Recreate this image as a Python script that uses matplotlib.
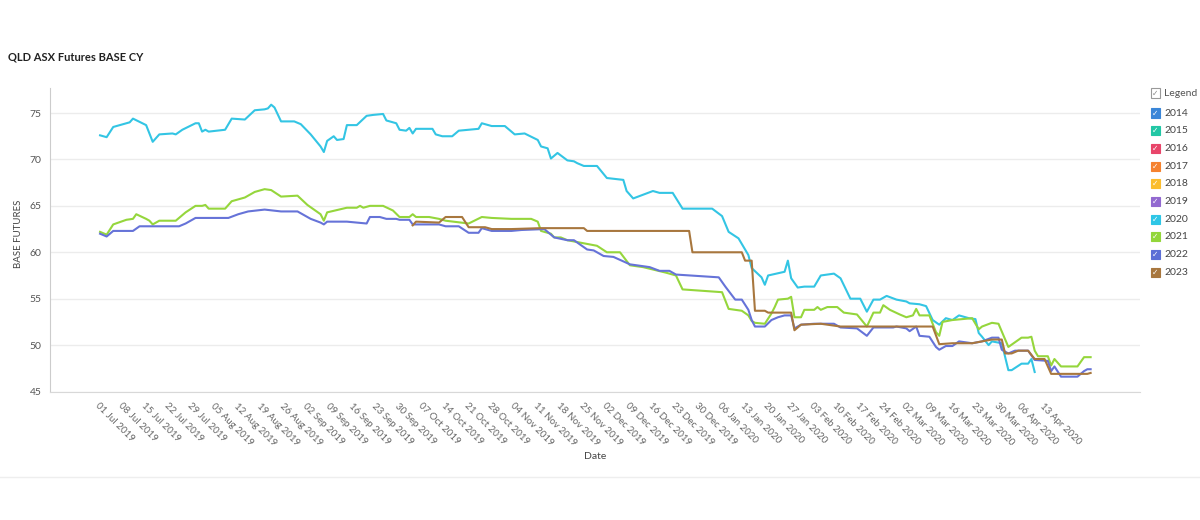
import matplotlib
matplotlib.use('Agg')
import matplotlib.pyplot as plt
from matplotlib.patches import Rectangle
from matplotlib.lines import Line2D
import pandas as pd

plt.rcParams['font.family'] = ['Lato', 'DejaVu Sans']

START = pd.Timestamp('2019-07-01')

# day offsets from 01 Jul 2019 and prices
cy2020_day = [0, 2, 4, 9, 10, 14, 16, 18, 22, 23, 25, 29, 30, 31, 32, 33, 38, 40, 44, 47,
              50, 51, 52, 53, 55, 59, 61, 64, 67, 68, 69, 71, 72, 74, 75, 78, 81, 83, 86, 87,
              90, 91, 93, 94, 95, 96, 101, 102, 104, 107, 109, 115, 116, 119, 123, 126, 129,
              133, 134, 136, 137, 139, 142, 144, 145, 147, 151, 154, 159, 160, 162, 165, 168,
              170, 174, 177, 186, 189, 191, 194, 197, 198, 201, 202, 203, 208, 209, 210, 212,
              214, 217, 219, 223, 225, 228, 231, 233, 235, 237, 239, 242, 245, 246, 249, 251,
              253, 255, 257, 259, 261, 264, 266, 267, 268, 270, 271, 274, 276, 277, 280, 282,
              283, 284]
cy2020_val = [72.6, 72.4, 73.5, 74.0, 74.4, 73.7, 71.9, 72.7, 72.8, 72.7, 73.2, 73.9, 73.9,
              73.0, 73.2, 73.0, 73.2, 74.4, 74.3, 75.3, 75.4, 75.5, 75.9, 75.6, 74.1, 74.1,
              73.8, 72.7, 71.4, 70.8, 72.0, 72.5, 72.1, 72.2, 73.7, 73.7, 74.7, 74.8, 74.9,
              74.2, 73.9, 73.2, 73.1, 73.4, 72.8, 73.3, 73.3, 72.7, 72.5, 72.5, 73.1, 73.3,
              73.9, 73.6, 73.6, 72.7, 72.8, 72.1, 71.4, 71.2, 70.1, 70.7, 69.9, 69.8, 69.6,
              69.3, 69.3, 68.0, 67.8, 66.6, 65.8, 66.2, 66.6, 66.4, 66.4, 64.7, 64.7, 63.9,
              62.2, 61.5, 59.7, 58.3, 57.3, 56.5, 57.5, 57.9, 59.1, 57.2, 56.2, 56.3, 56.3,
              57.5, 57.7, 57.2, 55.0, 55.0, 53.6, 54.9, 54.9, 55.3, 54.9, 54.7, 54.5, 54.4,
              54.2, 52.7, 52.2, 52.9, 52.7, 53.2, 52.9, 52.8, 51.3, 50.9, 50.0, 50.4, 50.2,
              47.3, 47.3, 48.0, 48.0, 48.5, 47.1]

cy2021_day = [0, 2, 4, 8, 10, 11, 14, 15, 16, 18, 23, 26, 29, 31, 32, 33, 38, 40, 44, 47,
              50, 52, 55, 60, 63, 67, 68, 69, 75, 78, 79, 80, 82, 86, 89, 91, 94, 95, 96, 100,
              103, 105, 112, 116, 119, 125, 131, 133, 134, 137, 138, 140, 142, 151, 154, 158,
              161, 165, 172, 175, 177, 181, 189, 191, 195, 197, 198, 199, 202, 204, 205, 206,
              209, 210, 211, 213, 214, 217, 218, 219, 221, 224, 226, 230, 233, 235, 237, 238,
              240, 243, 245, 247, 248, 249, 252, 254, 255, 256, 259, 265, 267, 268, 271, 273,
              276, 278, 280, 282, 283, 284, 285, 288, 289, 290, 292, 297, 299, 301]
cy2021_val = [62.2, 61.9, 63.0, 63.5, 63.6, 64.1, 63.6, 63.4, 63.0, 63.4, 63.4, 64.3, 65.0,
              65.0, 65.1, 64.7, 64.7, 65.5, 65.9, 66.5, 66.8, 66.7, 66.0, 66.1, 65.1, 64.1,
              63.4, 64.3, 64.8, 64.8, 65.0, 64.8, 65.0, 65.0, 64.5, 63.8, 63.8, 64.1, 63.8,
              63.8, 63.6, 63.4, 63.1, 63.8, 63.7, 63.6, 63.6, 63.3, 62.3, 62.0, 61.6, 61.6,
              61.3, 60.7, 60.0, 60.0, 58.6, 58.4, 57.8, 57.5, 56.0, 55.9, 55.7, 53.9, 53.7,
              53.2, 52.6, 52.4, 52.3, 53.4, 54.1, 54.9, 55.0, 55.2, 53.0, 53.0, 53.8, 53.8,
              54.1, 53.8, 54.1, 54.1, 53.5, 53.3, 52.0, 53.5, 53.5, 54.3, 53.8, 53.3, 53.0,
              53.2, 53.9, 53.2, 53.2, 51.4, 51.0, 52.5, 52.7, 52.9, 51.7, 52.0, 52.4, 52.3,
              49.8, 50.3, 50.8, 50.8, 50.9, 49.4, 48.8, 48.8, 47.8, 48.5, 47.7, 47.7, 48.7,
              48.7]

cy2022_day = [0, 2, 4, 10, 12, 24, 26, 29, 39, 42, 45, 50, 55, 60, 64, 67, 68, 69, 75, 81,
              82, 85, 87, 90, 91, 94, 95, 103, 105, 109, 112, 115, 116, 119, 125, 128, 135,
              138, 142, 144, 148, 150, 153, 156, 161, 167, 170, 173, 175, 188, 190, 193, 195,
              197, 198, 199, 202, 204, 206, 208, 210, 211, 213, 217, 223, 225, 230, 233, 235,
              241, 242, 245, 246, 248, 249, 252, 254, 255, 257, 259, 261, 265, 268, 271, 273,
              274, 276, 278, 282, 284, 288, 289, 290, 292, 297, 299, 300, 301]
cy2022_val = [62.0, 61.7, 62.3, 62.3, 62.8, 62.8, 63.1, 63.7, 63.7, 64.1, 64.4, 64.6, 64.4,
              64.4, 63.6, 63.2, 63.0, 63.3, 63.3, 63.1, 63.8, 63.8, 63.6, 63.6, 63.5, 63.5,
              63.0, 63.0, 62.8, 62.8, 62.1, 62.1, 62.6, 62.3, 62.3, 62.4, 62.5, 61.6, 61.3,
              61.3, 60.3, 60.2, 59.6, 59.5, 58.7, 58.4, 58.0, 58.0, 57.6, 57.3, 56.3, 54.9,
              54.9, 53.8, 52.7, 52.0, 52.0, 52.7, 53.0, 53.2, 53.2, 51.8, 52.2, 52.3, 52.3,
              51.9, 51.8, 51.0, 51.9, 51.9, 52.0, 51.8, 51.5, 52.0, 51.0, 50.9, 49.8, 49.5,
              49.9, 49.9, 50.4, 50.2, 50.4, 50.8, 50.8, 49.5, 49.1, 49.4, 49.4, 48.4, 48.3,
              47.2, 47.7, 46.6, 46.6, 47.2, 47.4, 47.4]

cy2023_day = [95, 96, 103, 105, 110, 112, 116, 117, 119, 125, 134, 147, 148, 179, 180, 195,
              196, 198, 199, 202, 203, 210, 211, 213, 219, 225, 253, 255, 259, 265, 268, 271,
              274, 275, 277, 279, 282, 284, 287, 289, 300, 301]
cy2023_val = [62.9, 63.3, 63.2, 63.8, 63.8, 62.7, 62.7, 62.7, 62.5, 62.5, 62.6, 62.6, 62.3,
              62.3, 60.0, 60.0, 59.1, 59.1, 53.7, 53.7, 53.5, 53.5, 51.6, 52.2, 52.3, 52.0,
              52.0, 50.1, 50.2, 50.2, 50.4, 50.6, 50.6, 49.1, 49.1, 49.4, 49.4, 48.5, 48.5,
              46.9, 46.9, 47.0]

series = [
    (cy2020_day, cy2020_val, '#33c5e4'),
    (cy2021_day, cy2021_val, '#95d63c'),
    (cy2022_day, cy2022_val, '#6673d8'),
    (cy2023_day, cy2023_val, '#a8773e'),
]

legend_years = ['2014', '2015', '2016', '2017', '2018', '2019', '2020', '2021', '2022', '2023']
legend_colors = ['#3a86d8', '#22c7a5', '#e8456a', '#f5822f', '#fbbd2e',
                 '#9269d0', '#2ec6e6', '#93d63a', '#5c6fd6', '#a8773e']

yticks = [45, 50, 55, 60, 65, 70, 75]
xticks = pd.date_range('2019-07-01', '2020-04-13', freq='7D')


def to_dates(days):
    return [START + pd.Timedelta(days=d) for d in days]


fig = plt.figure(figsize=(12, 5.2), dpi=100)
ax = fig.add_axes([0.0417, 0.2471, 0.9083, 0.5837])

for days, vals, col in series:
    ax.plot(to_dates(days), vals, color=col, linewidth=1.5, solid_joinstyle='round')

ax.set_ylim(45, 77.7)
ax.set_xlim(START - pd.Timedelta(days=15.2), START + pd.Timedelta(days=316))
ax.set_yticks(yticks)
ax.set_xticks(xticks)
ax.set_xticklabels([d.strftime('%d %b %Y') for d in xticks], rotation=-45,
                   ha='left', va='top', rotation_mode='anchor')
ax.tick_params(axis='x', length=0, pad=7, labelsize=7, labelcolor='#666666')
ax.tick_params(axis='y', length=0, pad=6, labelsize=7.5, labelcolor='#555555')
ax.grid(axis='y', color='#ececec', linewidth=1)
ax.set_axisbelow(True)
for s in ('top', 'right'):
    ax.spines[s].set_visible(False)
ax.spines['left'].set_color('#cccccc')
ax.spines['bottom'].set_color('#d8d8d8')
ax.set_xlabel('Date', fontsize=7.5, color='#444444')
ax.xaxis.set_label_coords(0.5, -0.2)
ax.set_ylabel('BASE FUTURES', fontsize=7, color='#444444')
ax.yaxis.set_label_coords(-0.025, 0.52)

fig.text(8 / 1200, 1 - 57 / 520, 'QLD ASX Futures BASE CY', fontsize=8,
         fontweight='bold', color='#222222', va='center', ha='left')

# faint panel separator under the chart
fig.add_artist(Line2D([0, 1], [1 - 477 / 520, 1 - 477 / 520], color='#eeeeee', linewidth=1))

# custom checkbox legend on the right
W, H = 1200.0, 520.0
bx, bs = 1151, 9


def checkbox(yc, face, edge, tick):
    fig.add_artist(Rectangle((bx / W, 1 - (yc + bs / 2) / H), bs / W, bs / H,
                             transform=fig.transFigure, facecolor=face,
                             edgecolor=edge, linewidth=0.8))
    fig.text((bx + bs / 2) / W, 1 - yc / H, '\u2713', fontsize=5.5, color=tick,
             ha='center', va='center', family=['DejaVu Sans'])


checkbox(93, 'white', '#999999', '#888888')
fig.text(1164 / W, 1 - 93 / H, 'Legend', fontsize=7.5, color='#555555', va='center')
for i, (yr, col) in enumerate(zip(legend_years, legend_colors)):
    yc = 113 + i * 17.7
    checkbox(yc, col, col, 'white')
    fig.text(1164 / W, 1 - yc / H, yr, fontsize=7.5, color='#444444', va='center')

fig.savefig('out.png', dpi=100)
